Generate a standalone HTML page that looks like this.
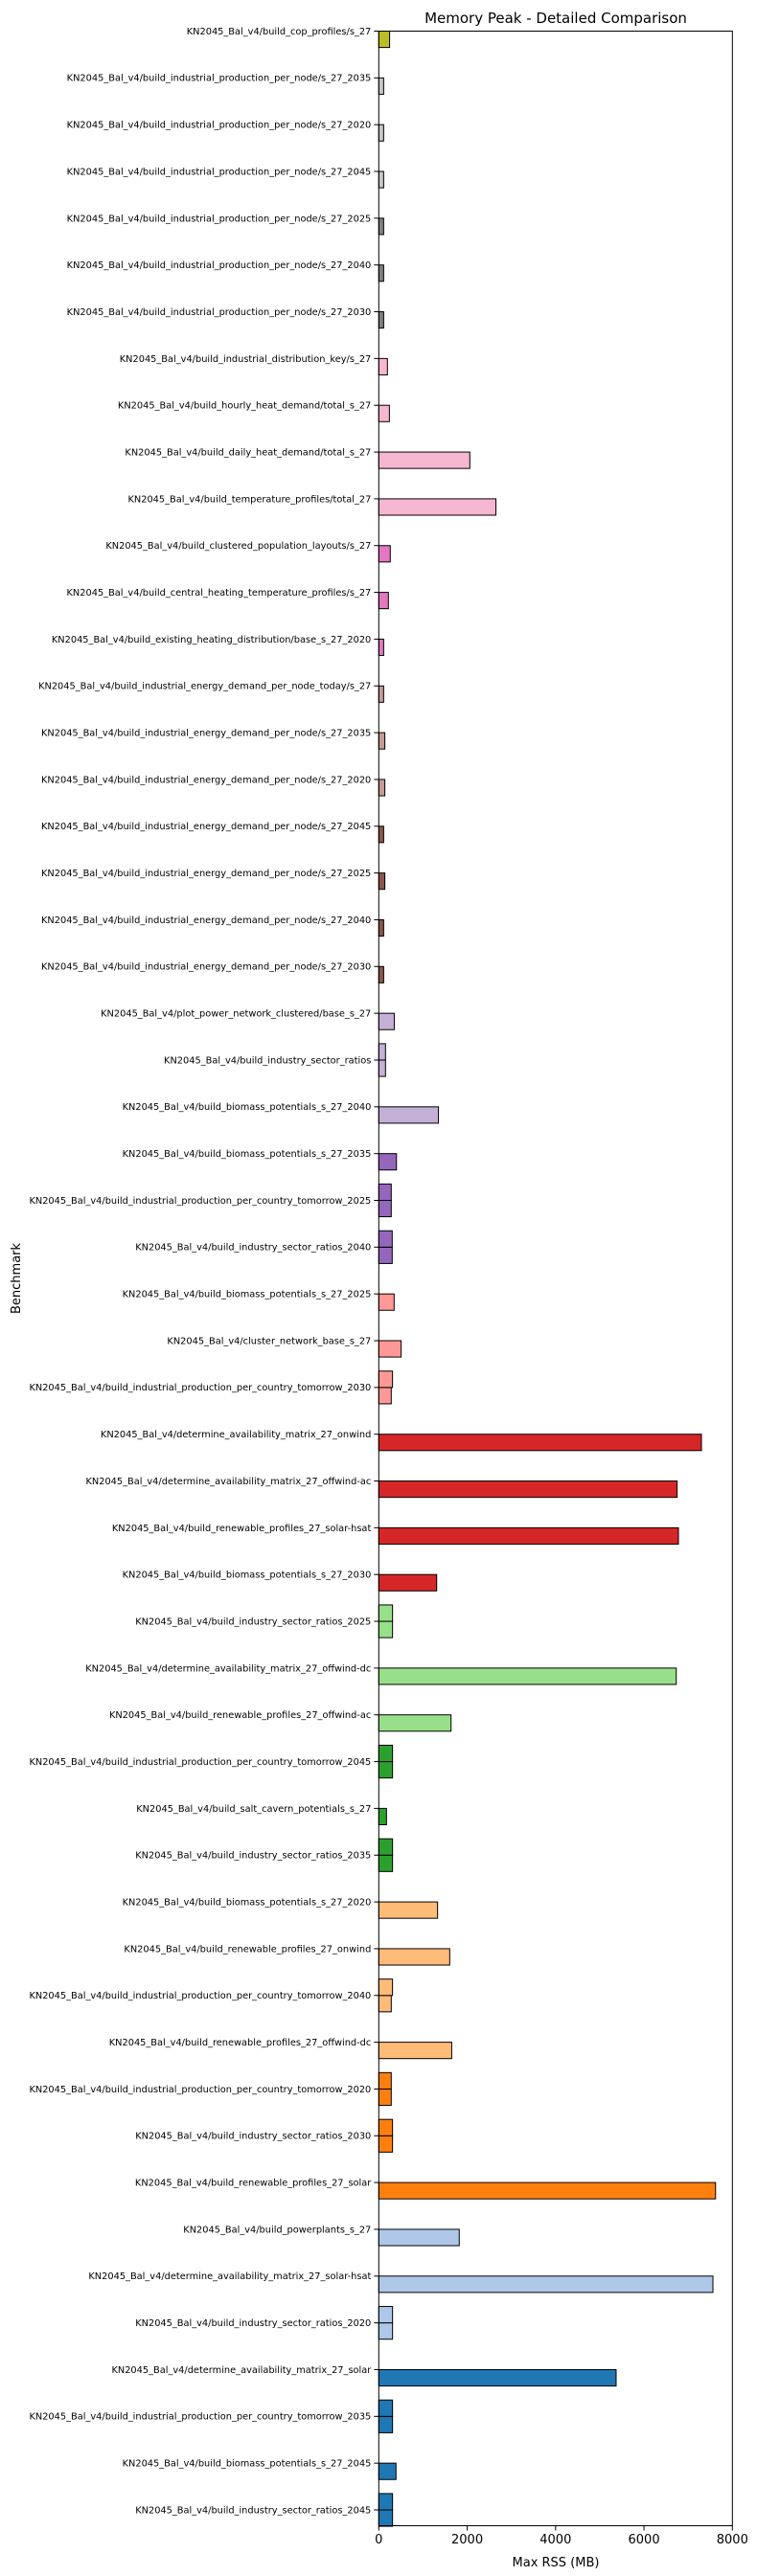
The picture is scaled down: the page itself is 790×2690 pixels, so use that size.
<!DOCTYPE html>
<html><head><meta charset="utf-8"><style>
html,body{margin:0;padding:0;background:#fff;}
svg{display:block;font-family:"DejaVu Sans","Liberation Sans",sans-serif;}
</style></head><body>
<svg id="chart" width="790" height="2690" viewBox="0 0 790 2690" xmlns="http://www.w3.org/2000/svg">
<rect width="790" height="2690" fill="#fff"/>
<text x="580" y="24" font-size="15" text-anchor="middle" fill="#000">Memory Peak - Detailed Comparison</text>
<text x="580" y="2680" font-size="13" text-anchor="middle" fill="#000">Max RSS (MB)</text>
<text x="0" y="0" font-size="13" text-anchor="middle" fill="#000" transform="translate(21,1335) rotate(-90)">Benchmark</text>
<g id="bars"></g>
<g id="yaxis"></g>
<g id="xaxis"></g>
<rect x="395.3" y="32.5" width="369" height="2605" fill="none" stroke="#000" stroke-width="1"/>
</svg>
<script>
const P = "KN2045_Bal_v4/";
const categories = [
"build_cop_profiles/s_27",
"build_industrial_production_per_node/s_27_2035",
"build_industrial_production_per_node/s_27_2020",
"build_industrial_production_per_node/s_27_2045",
"build_industrial_production_per_node/s_27_2025",
"build_industrial_production_per_node/s_27_2040",
"build_industrial_production_per_node/s_27_2030",
"build_industrial_distribution_key/s_27",
"build_hourly_heat_demand/total_s_27",
"build_daily_heat_demand/total_s_27",
"build_temperature_profiles/total_27",
"build_clustered_population_layouts/s_27",
"build_central_heating_temperature_profiles/s_27",
"build_existing_heating_distribution/base_s_27_2020",
"build_industrial_energy_demand_per_node_today/s_27",
"build_industrial_energy_demand_per_node/s_27_2035",
"build_industrial_energy_demand_per_node/s_27_2020",
"build_industrial_energy_demand_per_node/s_27_2045",
"build_industrial_energy_demand_per_node/s_27_2025",
"build_industrial_energy_demand_per_node/s_27_2040",
"build_industrial_energy_demand_per_node/s_27_2030",
"plot_power_network_clustered/base_s_27",
"build_industry_sector_ratios",
"build_biomass_potentials_s_27_2040",
"build_biomass_potentials_s_27_2035",
"build_industrial_production_per_country_tomorrow_2025",
"build_industry_sector_ratios_2040",
"build_biomass_potentials_s_27_2025",
"cluster_network_base_s_27",
"build_industrial_production_per_country_tomorrow_2030",
"determine_availability_matrix_27_onwind",
"determine_availability_matrix_27_offwind-ac",
"build_renewable_profiles_27_solar-hsat",
"build_biomass_potentials_s_27_2030",
"build_industry_sector_ratios_2025",
"determine_availability_matrix_27_offwind-dc",
"build_renewable_profiles_27_offwind-ac",
"build_industrial_production_per_country_tomorrow_2045",
"build_salt_cavern_potentials_s_27",
"build_industry_sector_ratios_2035",
"build_biomass_potentials_s_27_2020",
"build_renewable_profiles_27_onwind",
"build_industrial_production_per_country_tomorrow_2040",
"build_renewable_profiles_27_offwind-dc",
"build_industrial_production_per_country_tomorrow_2020",
"build_industry_sector_ratios_2030",
"build_renewable_profiles_27_solar",
"build_powerplants_s_27",
"determine_availability_matrix_27_solar-hsat",
"build_industry_sector_ratios_2020",
"determine_availability_matrix_27_solar",
"build_industrial_production_per_country_tomorrow_2035",
"build_biomass_potentials_s_27_2045",
"build_industry_sector_ratios_2045"
];
// series drawn below the tick (primary run)
const runA = [245,110,110,110,110,110,110,195,240,2060,2650,260,217,110,110,137,137,110,137,110,110,350,152,1350,400,282,304,347,506,282,7300,6750,6780,1310,311,6730,1635,311,174,311,1330,1605,282,1650,282,311,7620,1820,7560,311,5370,311,390,311];
// series drawn above the tick (second run; null = absent)
const runB = [null,null,null,null,null,null,null,null,null,null,null,null,null,null,null,null,null,null,null,null,null,null,152,null,null,282,304,null,null,311,null,null,null,null,311,null,null,311,null,311,null,null,311,null,282,311,null,null,null,311,null,311,null,311];
const colors = ["#bcbd22","#c7c7c7","#c7c7c7","#c7c7c7","#7f7f7f","#7f7f7f","#7f7f7f","#f7b6d2","#f7b6d2","#f7b6d2","#f7b6d2","#e377c2","#e377c2","#e377c2","#c49c94","#c49c94","#c49c94","#8c564b","#8c564b","#8c564b","#8c564b","#c5b0d5","#c5b0d5","#c5b0d5","#9467bd","#9467bd","#9467bd","#ff9896","#ff9896","#ff9896","#d62728","#d62728","#d62728","#d62728","#98df8a","#98df8a","#98df8a","#2ca02c","#2ca02c","#2ca02c","#ffbb78","#ffbb78","#ffbb78","#ffbb78","#ff7f0e","#ff7f0e","#ff7f0e","#aec7e8","#aec7e8","#aec7e8","#1f77b4","#1f77b4","#1f77b4","#1f77b4"];
const xTicks = [0,2000,4000,6000,8000];

const NS = "http://www.w3.org/2000/svg";
const X0 = 395.3, X1 = 764.3, XMAX = 8000;
const Y0 = 32.5, STEP = (2621 - 32.5) / 53, BH = 0.35 * STEP;
const xs = v => X0 + (v / XMAX) * (X1 - X0);
const ys = i => Y0 + i * STEP;
function mk(tag, attrs) { const e = document.createElementNS(NS, tag); for (const k in attrs) e.setAttribute(k, attrs[k]); return e; }
const gb = document.getElementById("bars"), gy = document.getElementById("yaxis"), gx = document.getElementById("xaxis");

categories.forEach((c, i) => {
  const t = ys(i);
  if (runA[i] != null) {
    const r = mk("rect", {x: X0, y: t, width: xs(runA[i]) - X0, height: BH, fill: colors[i], stroke: "#000", "stroke-width": 1});
    
    
    gb.appendChild(r);
  }
  if (runB[i] != null) {
    const r = mk("rect", {x: X0, y: t - BH, width: xs(runB[i]) - X0, height: BH, fill: colors[i], stroke: "#000", "stroke-width": 1});
    
    
    gb.appendChild(r);
  }
  const tk = mk("line", {x1: X0 - 5, x2: X0, y1: t, y2: t, stroke: "#000", "stroke-width": 1});
  
  
  gy.appendChild(tk);
  const lb = mk("text", {x: X0 - 8, y: t + 3.4, "font-size": 9.8, "text-anchor": "end", fill: "#000"});
  lb.textContent = P + c;
  
  
  gy.appendChild(lb);
});

xTicks.forEach(v => {
  const x = xs(v);
  const tk = mk("line", {x1: x, x2: x, y1: 2637.5, y2: 2642.5, stroke: "#000", "stroke-width": 1});
  
  
  gx.appendChild(tk);
  const lb = mk("text", {x: x, y: 2656, "font-size": 13, "text-anchor": "middle", fill: "#000"});
  lb.textContent = String(v);
  
  
  gx.appendChild(lb);
});
</script>
</body></html>
